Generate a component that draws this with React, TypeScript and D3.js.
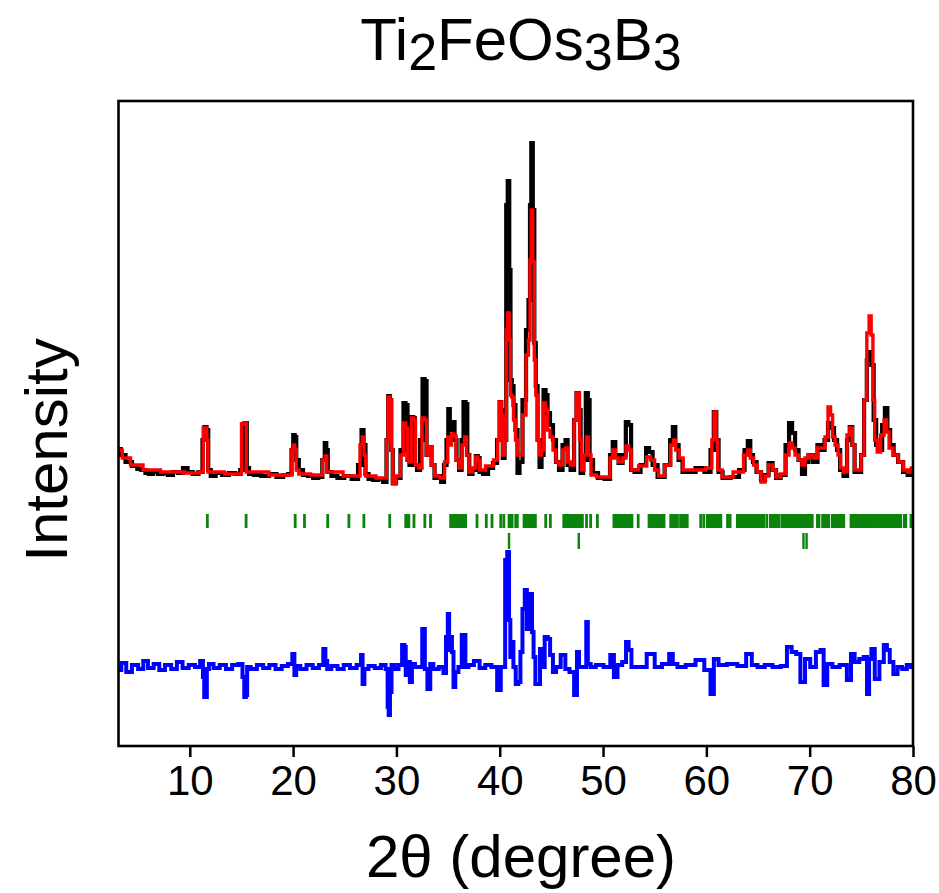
import React, { useEffect, useRef } from "react";
import * as d3 from "d3";

// x axis (2 theta, degree)
const majorTicks = [10, 20, 30, 40, 50, 60, 70, 80];
const minorTicks = [5, 15, 25, 35, 45, 55, 65, 75];

// observed pattern [2theta, intensity a.u.]
const observed: [number, number][] = [
  [3.15, 210], [3.49, 150], [4.07, 80], [4.75, 40], [5.1, 10], [5.52, 0], [5.9, -30], [6.2, -40],
  [6.7, -20], [7.16, -40], [7.6, -30], [8.13, -50], [8.6, -20], [9.1, -30], [9.58, 20], [10.0, -20],
  [10.55, -40], [11.13, -20], [11.33, 300], [11.52, 430], [11.71, 400], [11.86, 0], [12.2, -60],
  [12.8, -30], [13.46, -50], [14.1, -30], [14.71, -40], [15.05, 0], [15.2, 460], [15.44, 470],
  [15.59, 20], [15.88, -40], [16.5, -50], [17.33, -60], [18.0, -40], [18.78, -70], [19.3, -50],
  [19.75, -40], [19.94, 200], [20.09, 350], [20.23, 330], [20.38, 100], [20.72, 0], [21.2, -50],
  [21.69, -60], [22.2, -80], [22.66, -70], [22.99, 100], [23.14, 270], [23.28, 200], [23.43, -20],
  [24.0, -60], [24.59, -80], [25.3, -60], [26.04, -90], [26.53, 50], [26.72, 400], [26.91, 250],
  [27.1, -40], [27.5, -90], [27.98, -100], [28.5, -90], [28.94, -120], [29.14, 300], [29.28, 740],
  [29.43, 700], [29.57, 200], [29.72, -130], [30.2, -80], [30.59, 200], [30.78, 670], [30.98, 650],
  [31.17, 100], [31.36, 50], [31.56, 530], [31.7, 520], [31.85, 50], [32.14, 0], [32.43, 300],
  [32.63, 910], [32.82, 890], [33.01, 150], [33.3, 230], [33.5, 50], [33.88, -80], [34.2, -60],
  [34.46, -120], [34.75, 50], [34.95, 300], [35.09, 610], [35.24, 400], [35.38, 450], [35.53, 480],
  [35.72, 300], [35.92, 100], [36.21, 0], [36.4, 300], [36.59, 680], [36.79, 660], [36.93, 150],
  [37.17, -40], [37.56, 0], [37.8, 140], [37.95, 120], [38.14, -20], [38.63, -40], [39.11, 20],
  [39.59, 70], [39.89, 300], [40.08, 680], [40.22, 600], [40.37, 120], [40.56, 300], [40.7, 2650],
  [40.85, 2890], [40.99, 2000], [41.09, 900], [41.24, 840], [41.43, 650], [41.62, 400], [41.82, -30],
  [42.01, 80], [42.4, 700], [42.69, 1400], [42.88, 1700], [42.98, 2650], [43.13, 3270], [43.27, 2600],
  [43.42, 1270], [43.56, 840], [43.76, 300], [43.95, 30], [44.14, 150], [44.34, 800], [44.53, 750],
  [44.72, 570], [45.01, 450], [45.3, 300], [45.59, 80], [45.89, 0], [46.27, 250], [46.47, 300],
  [46.66, 50], [47.05, 0], [47.34, 500], [47.53, 770], [47.73, 600], [47.92, -30], [48.21, 100],
  [48.45, 770], [48.6, 700], [48.79, 100], [49.27, -30], [49.76, -80], [50.53, -90], [50.82, 150],
  [51.06, 280], [51.31, 150], [51.7, 70], [52.08, 150], [52.33, 480], [52.57, 450], [52.86, 0],
  [53.24, -20], [54.02, 50], [54.31, 220], [54.6, 180], [54.99, 50], [55.57, -70], [56.35, 50],
  [56.64, 300], [56.87, 430], [57.12, 250], [57.5, 100], [57.89, -20], [58.47, -20], [59.44, 20],
  [60.21, -20], [60.6, 200], [60.84, 580], [61.08, 300], [61.28, -20], [61.86, -80], [62.82, -70],
  [63.5, 0], [63.89, 200], [64.13, 290], [64.37, 150], [64.66, 80], [65.05, -20], [65.53, -100],
  [65.83, -50], [66.21, 70], [66.6, 0], [66.89, -80], [67.47, -50], [67.86, 250], [68.15, 470],
  [68.44, 370], [68.73, 200], [69.11, 100], [69.4, -40], [69.69, 80], [70.08, 150], [70.56, 80],
  [70.95, 250], [71.24, 200], [71.63, 300], [71.92, 470], [72.21, 420], [72.5, 300], [72.8, 200],
  [73.09, 0], [73.47, -60], [73.76, 300], [74.0, 430], [74.25, 250], [74.44, -20], [74.83, -20],
  [75.12, 150], [75.41, 700], [75.65, 1100], [75.85, 1180], [76.09, 1050], [76.29, 500], [76.58, 250],
  [76.87, 200], [77.16, 450], [77.4, 620], [77.64, 400], [77.93, 250], [78.32, 150], [78.8, 80],
  [79.29, -20], [79.68, -50], [80.0, 0],
];

// calculated pattern
const calculated: [number, number][] = [
  [3.15, 200], [3.78, 120], [4.75, 50], [6.2, 0], [8.13, -20], [10.55, -30], [11.23, -20], [11.37, 420],
  [11.57, 420], [11.71, 300], [11.81, -20], [14.91, -40], [15.1, 460], [15.39, 470], [15.54, -20],
  [19.75, -50], [19.99, 200], [20.09, 250], [20.23, 200], [20.38, 0], [20.72, -40], [22.66, -50],
  [23.04, 100], [23.18, 140], [23.33, -20], [26.33, -60], [26.62, 250], [26.77, 330], [26.96, 150],
  [27.1, -60], [28.94, -80], [29.14, 300], [29.26, 730], [29.43, 700], [29.57, 200], [29.72, -140],
  [30.2, -60], [30.59, 150], [30.78, 470], [30.98, 420], [31.17, 100], [31.36, 80], [31.56, 520],
  [31.75, 500], [31.94, 50], [32.33, 20], [32.63, 520], [32.82, 500], [33.01, 150], [33.3, 230],
  [33.5, 50], [33.88, -60], [34.46, -80], [34.85, 80], [35.09, 330], [35.24, 250], [35.43, 360],
  [35.63, 340], [35.92, 100], [36.21, 20], [36.5, 250], [36.69, 330], [36.88, 150], [37.17, -20],
  [37.56, 20], [37.8, 130], [37.95, 100], [38.14, 0], [39.11, 40], [39.69, 100], [39.89, 300],
  [40.08, 680], [40.22, 550], [40.37, 150], [40.56, 300], [40.7, 1400], [40.85, 1570], [40.99, 1300],
  [41.09, 750], [41.24, 730], [41.43, 500], [41.62, 300], [41.82, 150], [42.01, 150], [42.4, 550],
  [42.69, 1150], [42.88, 1300], [42.98, 2100], [43.13, 2600], [43.27, 2080], [43.42, 1100],
  [43.56, 750], [43.76, 300], [43.95, 150], [44.14, 200], [44.34, 670], [44.53, 600], [44.72, 400],
  [45.01, 330], [45.3, 200], [45.59, 80], [45.89, 50], [46.27, 200], [46.47, 220], [46.66, 80],
  [47.05, 50], [47.34, 500], [47.48, 770], [47.63, 770], [47.82, 300], [48.01, 0], [48.31, 150],
  [48.5, 330], [48.69, 150], [48.98, -50], [49.76, -70], [50.53, -70], [50.82, 120], [51.06, 200],
  [51.31, 120], [51.7, 80], [52.08, 120], [52.37, 240], [52.57, 200], [52.86, 0], [54.02, 40],
  [54.41, 130], [54.8, 100], [55.18, 0], [55.57, -60], [56.35, 50], [56.74, 250], [56.93, 300],
  [57.12, 200], [57.6, 120], [57.89, 0], [59.44, 0], [60.41, 20], [60.65, 300], [60.84, 580],
  [61.03, 300], [61.18, 0], [61.86, -70], [63.31, -20], [63.89, 150], [64.13, 200], [64.37, 120],
  [64.76, 50], [65.05, -20], [65.53, -120], [65.83, -60], [66.21, 50], [66.6, 0], [66.89, -70],
  [67.47, -40], [67.86, 150], [68.15, 270], [68.44, 220], [68.73, 150], [69.11, 100], [69.4, 50],
  [69.69, 120], [70.08, 150], [70.56, 120], [70.95, 220], [71.34, 220], [71.63, 330], [71.92, 630],
  [72.12, 550], [72.31, 330], [72.6, 250], [72.89, 150], [73.09, 20], [73.47, -20], [73.76, 350],
  [74.0, 420], [74.25, 250], [74.44, 0], [74.83, 0], [75.12, 150], [75.41, 700], [75.65, 1370],
  [75.85, 1540], [76.05, 1350], [76.19, 700], [76.39, 300], [76.68, 180], [77.06, 350], [77.35, 500],
  [77.54, 380], [77.83, 220], [78.32, 150], [78.8, 80], [79.29, 0], [79.68, -20], [80.0, 20],
];

// difference (obs - calc), drawn around diffOffset
const difference: [number, number][] = [
  [3.15, -30], [3.6, 40], [4.1, -50], [4.7, 20], [5.3, -20], [5.7, 60], [6.2, -10], [6.8, 30],
  [7.3, -30], [7.9, 20], [8.5, -20], [9.0, 50], [9.6, -10], [10.2, 20], [10.8, 0], [11.2, 60],
  [11.35, -100], [11.45, -300], [11.6, -300], [11.7, -20], [12.0, 30], [12.6, -10], [13.2, 20],
  [13.8, -20], [14.4, 20], [15.0, 30], [15.2, -100], [15.35, -300], [15.5, -280], [15.6, 0],
  [16.2, -20], [16.8, 20], [17.4, -10], [18.0, 20], [18.6, -20], [19.2, 10], [19.8, 30], [20.05, 130],
  [20.2, -80], [20.4, 10], [21.0, -20], [21.6, 20], [22.2, -10], [22.8, 20], [23.05, 180], [23.2, 60],
  [23.4, -20], [24.0, 10], [24.6, -20], [25.2, 20], [25.8, -10], [26.5, 20], [26.65, 120],
  [26.8, -170], [27.0, -20], [27.6, 10], [28.2, -10], [28.8, 20], [29.1, -20], [29.2, -400],
  [29.3, -480], [29.45, -250], [29.6, 20], [30.0, -20], [30.4, 20], [30.7, 220], [30.85, 200],
  [30.95, -80], [31.2, 50], [31.4, -150], [31.6, 30], [32.0, 0], [32.45, 0], [32.55, 380], [32.7, 380],
  [32.8, -20], [33.2, -220], [33.35, 30], [33.8, -20], [34.4, 0], [34.7, -60], [34.9, 300],
  [35.05, 530], [35.15, 170], [35.3, 300], [35.45, 150], [35.6, -200], [35.8, -50], [36.2, 0],
  [36.45, 320], [36.6, 320], [36.75, 0], [37.2, 20], [37.8, 60], [38.3, -10], [38.9, 20], [39.5, 0],
  [40.0, -230], [40.2, 0], [40.45, 0], [40.6, 1070], [40.85, 1150], [40.95, 470], [41.1, 100],
  [41.25, 250], [41.4, 0], [41.7, -170], [41.9, -150], [42.1, 150], [42.3, 580], [42.55, 770],
  [42.7, 380], [42.85, 380], [43.05, 730], [43.2, 350], [43.35, 100], [43.55, -170], [43.8, -170],
  [44.0, 180], [44.15, 0], [44.55, 300], [44.75, 280], [45.0, 120], [45.3, -50], [45.6, 0],
  [46.2, 120], [46.5, -20], [47.0, -50], [47.4, -280], [47.55, 150], [47.8, 0], [48.3, 0],
  [48.45, 450], [48.6, 30], [49.0, 0], [49.6, 20], [50.5, 0], [50.9, 120], [51.2, -100], [51.6, 20],
  [52.1, 50], [52.35, 250], [52.6, 170], [52.9, 0], [54.0, 0], [54.45, 130], [54.8, 130], [55.2, 0],
  [56.2, 30], [56.6, 130], [56.9, 30], [57.5, 0], [58.5, 20], [59.4, 70], [60.2, -30], [60.6, -270],
  [60.85, 80], [61.5, 20], [62.5, 30], [63.5, 10], [64.2, 130], [64.6, 20], [65.3, 0], [66.0, 20],
  [66.8, 0], [67.6, 10], [68.0, 200], [68.5, 150], [68.9, 130], [69.3, -150], [69.8, 80], [70.3, 0],
  [70.9, 150], [71.2, 170], [71.5, -180], [71.9, 30], [72.5, 0], [73.3, 20], [73.9, -130],
  [74.1, 130], [74.6, 50], [75.0, 80], [75.45, 100], [75.65, -270], [75.85, 80], [76.1, 180],
  [76.5, -120], [77.0, 50], [77.35, 220], [77.6, 170], [77.9, 50], [78.3, -70], [78.7, 0],
  [79.2, -20], [79.6, 20], [80.0, 0],
];

// Bragg reflection positions
const braggMain = [
  11.7, 15.45, 20.2, 21.1, 23.35, 25.4, 26.85, 29.35, 30.9, 31.05, 31.2, 31.7, 32.75, 33.3,
  35.25, 35.4, 35.55, 35.7, 35.85, 36.0, 36.15, 36.3, 36.45, 36.6, 36.7,
  37.8, 38.7, 39.25, 40.1, 40.4, 40.9, 41.05, 41.2, 41.55, 41.7,
  42.35, 42.5, 42.65, 42.8, 42.95, 43.1, 43.25, 43.45, 44.45, 44.9,
  46.2, 46.35, 46.5, 46.65, 46.8, 47.0, 47.15, 47.3, 47.5, 47.65, 47.8, 48.0, 48.4, 48.8, 49.45,
  51.05, 51.2, 51.35, 51.5, 51.65, 51.8, 52.0, 52.2, 52.35, 52.5, 52.65, 52.8, 53.4,
  54.45, 54.6, 54.75, 54.9, 55.05, 55.25, 55.4, 55.55, 55.7, 55.9,
  56.55, 56.7, 56.85, 57.0, 57.2, 57.5, 57.65, 57.8, 58.0, 58.15, 59.45, 59.75,
  60.1, 60.25, 60.4, 60.55, 60.7, 60.9, 61.05, 61.2, 61.4, 62.05, 62.3,
  63.0, 63.15, 63.3, 63.45, 63.6, 63.75, 63.9, 64.05, 64.2, 64.35, 64.5, 64.65, 64.8, 64.95,
  65.1, 65.25, 65.4, 65.55, 65.85, 66.2, 66.35, 66.5, 66.7, 66.85, 67.05, 67.35,
  67.5, 67.65, 67.8, 67.95, 68.1, 68.25, 68.4, 68.55, 68.7, 68.85, 69.0, 69.15, 69.3, 69.45,
  69.6, 69.75, 69.9, 70.05, 70.25, 70.75, 70.9, 71.25, 71.4, 71.55, 71.7, 71.85,
  72.2, 72.35, 72.5, 72.65, 72.8, 72.95, 73.1, 73.3,
  74.0, 74.15, 74.3, 74.45, 74.6, 74.75, 74.9, 75.05, 75.2, 75.35, 75.5, 75.65, 75.8, 75.95,
  76.1, 76.25, 76.4, 76.55, 76.7, 76.85, 77.0, 77.15, 77.3, 77.45, 77.6, 77.75, 77.9, 78.05,
  78.2, 78.35, 78.5, 78.65, 78.8, 79.15, 79.3, 79.8, 79.95,
];
const braggSecond = [40.9, 47.65, 69.4, 69.7];

const diffOffset = -1970;
const braggMainLevel = -510;
const braggSecondLevel = -710;

const FONT = "'Liberation Sans', Arial, sans-serif";

export default function App() {
  const ref = useRef<SVGSVGElement>(null);

  useEffect(() => {
    const svg = d3.select(ref.current);
    svg.selectAll("*").remove();

    const x = d3.scaleLinear().domain([3.1, 80]).range([118.5, 913]);
    const y = d3.scaleLinear().domain([-2760, 3690]).range([746, 101]);

    // stepped like the raw scan
    const line = d3
      .line<[number, number]>()
      .x((d) => x(d[0]))
      .y((d) => y(d[1]))
      .curve(d3.curveStep);

    // bragg ticks
    svg
      .append("g")
      .selectAll("line")
      .data(braggMain)
      .join("line")
      .attr("x1", (d) => x(d))
      .attr("x2", (d) => x(d))
      .attr("y1", y(braggMainLevel + 70))
      .attr("y2", y(braggMainLevel - 70))
      .attr("stroke", "#0b840b")
      .attr("stroke-width", 2.8);

    svg
      .append("g")
      .selectAll("line")
      .data(braggSecond)
      .join("line")
      .attr("x1", (d) => x(d))
      .attr("x2", (d) => x(d))
      .attr("y1", y(braggSecondLevel + 80))
      .attr("y2", y(braggSecondLevel - 80))
      .attr("stroke", "#0b840b")
      .attr("stroke-width", 2.4);

    svg
      .append("path")
      .datum(observed)
      .attr("fill", "none")
      .attr("stroke", "#000")
      .attr("stroke-width", 4.2)
      .attr("d", line);

    svg
      .append("path")
      .datum(calculated)
      .attr("fill", "none")
      .attr("stroke", "#ff0000")
      .attr("stroke-width", 3.4)
      .attr("d", line);

    svg
      .append("path")
      .datum(difference.map((d) => [d[0], d[1] + diffOffset] as [number, number]))
      .attr("fill", "none")
      .attr("stroke", "#0000ff")
      .attr("stroke-width", 4)
      .attr("d", line);

    // frame
    svg
      .append("rect")
      .attr("x", 118.5)
      .attr("y", 101)
      .attr("width", 913 - 118.5)
      .attr("height", 746 - 101)
      .attr("fill", "none")
      .attr("stroke", "#000")
      .attr("stroke-width", 2.6);

    const gx = svg.append("g").attr("transform", `translate(0,746)`);
    gx.call(d3.axisBottom(x).tickValues(minorTicks).tickSize(6).tickFormat(() => ""));
    gx.call(
      d3.axisBottom(x).tickValues(majorTicks).tickSize(11).tickPadding(8).tickFormat((d) => `${d}`)
    );
    gx.selectAll(".domain").remove();
    gx.selectAll("line").attr("stroke-width", 2.5);
    gx.selectAll("text").attr("font-size", 42).attr("font-family", FONT).attr("fill", "#000");

    // axis titles
    svg
      .append("text")
      .attr("x", 521)
      .attr("y", 877)
      .attr("text-anchor", "middle")
      .attr("font-family", FONT)
      .attr("font-size", 60)
      .text("2θ (degree)");

    svg
      .append("text")
      .attr("transform", "translate(67,450) rotate(-90)")
      .attr("text-anchor", "middle")
      .attr("font-family", FONT)
      .attr("font-size", 60)
      .text("Intensity");

    // title with subscripts
    const title = svg
      .append("text")
      .attr("x", 521)
      .attr("y", 60)
      .attr("text-anchor", "middle")
      .attr("font-family", FONT)
      .attr("font-size", 60);
    const parts: [string, boolean][] = [
      ["Ti", false], ["2", true], ["FeOs", false], ["3", true], ["B", false], ["3", true],
    ];
    let sub = false;
    parts.forEach(([t, s]) => {
      const span = title.append("tspan").text(t);
      if (s) span.attr("font-size", 52);
      if (s !== sub) span.attr("dy", s ? 10 : -10);
      sub = s;
    });
  }, []);

  return (
    <svg
      ref={ref}
      width={939}
      height={893}
      style={{ position: "absolute", left: 0, top: 0, background: "#fff" }}
    />
  );
}
